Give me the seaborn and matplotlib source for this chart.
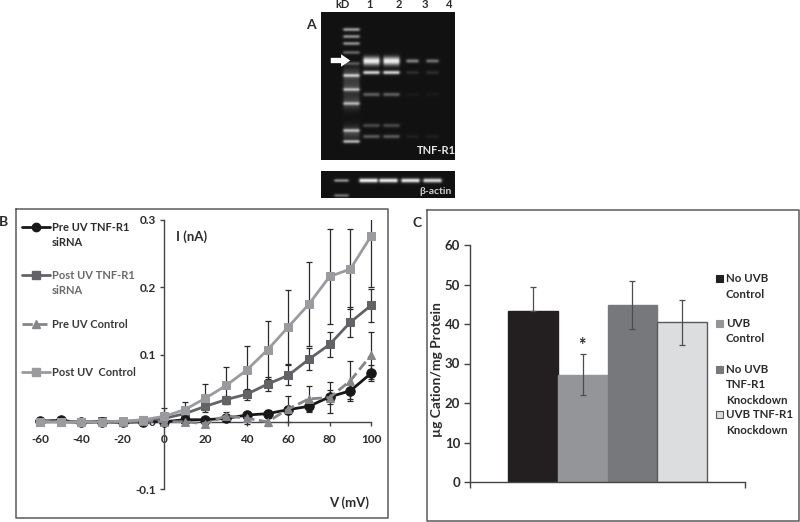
import numpy as np
import pandas as pd
import matplotlib
matplotlib.use("Agg")
import matplotlib.pyplot as plt
import seaborn as sns

# --- Panel B data ---
volts = [-60, -50, -40, -30, -20, -10, 0, 10, 20, 30, 40, 50, 60, 70, 80, 90, 100]
pre_sirna = [0.001, 0.002, -0.001, 0.0, -0.001, 0.0, 0.0, 0.003, 0.003, 0.005, 0.010, 0.012, 0.018, 0.023, 0.037, 0.046, 0.072]
post_sirna = [0.0, 0.0, -0.001, 0.001, 0.0, 0.002, 0.005, 0.012, 0.023, 0.033, 0.041, 0.056, 0.069, 0.093, 0.115, 0.148, 0.173]
pre_ctrl = [0.0, 0.0, 0.0, 0.0, 0.0, 0.001, 0.0, 0.0, -0.003, 0.009, 0.005, 0.0, 0.019, 0.034, 0.036, 0.061, 0.099]
post_ctrl = [0.0, 0.0, -0.001, 0.0, 0.001, 0.003, 0.008, 0.018, 0.035, 0.054, 0.077, 0.107, 0.141, 0.175, 0.216, 0.227, 0.276]
pre_sirna_err = [0.001, 0.001, 0.001, 0.001, 0.001, 0.001, 0.002, 0.003, 0.003, 0.004, 0.005, 0.005, 0.006, 0.007, 0.010, 0.012, 0.012]
post_sirna_err = [0.001, 0.001, 0.001, 0.001, 0.001, 0.002, 0.003, 0.004, 0.005, 0.006, 0.008, 0.011, 0.015, 0.016, 0.018, 0.022, 0.025]
pre_ctrl_err = [0.001, 0.001, 0.001, 0.001, 0.001, 0.002, 0.003, 0.003, 0.004, 0.005, 0.008, 0.006, 0.020, 0.019, 0.023, 0.030, 0.035]
post_ctrl_err = [0.001, 0.001, 0.001, 0.001, 0.002, 0.004, 0.012, 0.012, 0.021, 0.028, 0.036, 0.043, 0.055, 0.063, 0.071, 0.060, 0.076]
b_xticks = [-60, -40, -20, 0, 20, 40, 60, 80, 100]
b_yticks = [-0.1, 0.0, 0.1, 0.2, 0.3]
b_yticklabels = ["-0.1", "0", "0.1", "0.2", "0.3"]

# --- Panel C data ---
conditions = ["No UVB Control", "UVB Control", "No UVB TNF-R1 Knockdown", "UVB TNF-R1 Knockdown"]
cation = [43.3, 27.1, 44.8, 40.5]
cation_err = [6.0, 5.2, 6.0, 5.7]
c_yticks = [0, 10, 20, 30, 40, 50, 60]

# --- Panel A blot: (row in pixels, relative brightness) ---
ladder_rows = [17, 24, 31, 40, 51, 63, 77, 91, 118, 129]
ladder_vals = [0.5, 0.45, 0.45, 0.3, 0.25, 0.5, 0.45, 0.42, 0.45, 0.55]
lane_cols = [50, 70, 91, 111]
lane_rows = [48.5, 60, 82, 113, 124]
lane_vals = [[0.85, 0.7, 0.28, 0.2, 0.26],
             [0.85, 0.7, 0.28, 0.2, 0.26],
             [0.4, 0.1, 0.03, 0.0, 0.05],
             [0.35, 0.1, 0.03, 0.0, 0.05]]
actin_cols = [47, 67, 89, 111]
actin_vals = [0.85, 0.82, 0.8, 0.75]

sns.set_theme(style="white")
plt.rcParams['font.family'] = ['Lato', 'DejaVu Sans']
plt.rcParams['font.weight'] = 'bold'
plt.rcParams['axes.labelweight'] = 'bold'

W, H = 800, 522
TXT = '#2b2b2b'
AXC = '#444444'


def px_axes(fig, left, top, right, bottom, **kw):
    """Axes placed by pixel edges of the figure."""
    return fig.add_axes([left / W, 1 - bottom / H, (right - left) / W, (bottom - top) / H], **kw)


def blot_image(h, w, bands):
    yy, xx = np.mgrid[0:h, 0:w]
    img = np.zeros((h, w))
    for cx, cy, sx, sy, v in bands:
        # flat topped band so lanes read as bars and not as dots
        ex = np.clip(np.abs(xx - cx) - sx, 0, None) / 2.5
        img += v * np.exp(-ex ** 2 - ((yy - cy) / sy) ** 2)
    return img


fig = plt.figure(figsize=(W / 100, H / 100), dpi=100, facecolor='white')

# --- Panel A ---
bands = [(30, r, 6, 1.8, v) for r, v in zip(ladder_rows, ladder_vals)]
bands += [(30, r, 6, 7, 0.2) for r in [62, 75, 90, 120]]
for col, vals in zip(lane_cols, lane_vals):
    half = 6 if vals[0] > 0.8 else 4
    for r, v in zip(lane_rows, vals):
        if v > 0:
            bands.append((col, r, half, 4.2 if (v > 0.8) else 2.0, v))
ax_a = px_axes(fig, 321, 12, 455, 160)
ax_a.imshow(blot_image(148, 134, bands) + 0.07, cmap='gray', vmin=0, vmax=1, aspect='auto')
ax_a.axis('off')

actin = [(20, 9, 5, 1.7, 0.45), (20, 24, 5, 1.7, 0.35)]
actin += [(c, 9, 7, 2.2, v) for c, v in zip(actin_cols, actin_vals)]
ax_act = px_axes(fig, 321, 171, 455, 198)
ax_act.imshow(blot_image(27, 134, actin) + 0.07, cmap='gray', vmin=0, vmax=1, aspect='auto')
ax_act.axis('off')

# --- Panel B ---
ax_b = px_axes(fig, 29.6, 220, 381.4, 489)
series = [
    (post_ctrl, post_ctrl_err, '#9a9b9e', 's', '-', 6.0, 3.4),
    (post_sirna, post_sirna_err, '#626366', 's', '-', 6.0, 3.1),
    (pre_ctrl, pre_ctrl_err, '#85868a', '^', '--', 6.0, 3.3),
    (pre_sirna, pre_sirna_err, '#1a1718', 'o', '-', 6.8, 3.2),
]
for vals, errs, col, mk, ls, ms, z in series:
    ax_b.errorbar(volts, vals, yerr=errs, fmt='none', ecolor='#2a2a2a', elinewidth=0.9, capsize=2.3, capthick=0.9, zorder=2)
for vals, errs, col, mk, ls, ms, z in series:
    sns.lineplot(x=volts, y=vals, color=col, marker=mk, linestyle=ls, linewidth=2.0, markersize=ms,
                 markeredgecolor=col, errorbar=None, ax=ax_b, zorder=z, clip_on=False)
ax_b.set_xlim(-65, 105)
ax_b.set_ylim(-0.1, 0.3)
ax_b.patch.set_alpha(0)
for s in ['top', 'right']:
    ax_b.spines[s].set_visible(False)
ax_b.spines['left'].set_position(('data', 0))
ax_b.spines['bottom'].set_position(('data', 0))
ax_b.spines['bottom'].set_bounds(-60, 100)
for s in ['left', 'bottom']:
    ax_b.spines[s].set_color(AXC)
    ax_b.spines[s].set_linewidth(1.0)
ax_b.set_xticks(b_xticks)
ax_b.set_xticklabels([str(v) for v in b_xticks])
ax_b.set_yticks(b_yticks)
ax_b.set_yticklabels(b_yticklabels)
ax_b.tick_params(axis='both', length=3, width=1, color=AXC, labelsize=8.5, labelcolor=TXT, pad=3, bottom=True, left=True)
ax_b.tick_params(axis='x', pad=6)

# --- Panel C ---
ax_c = px_axes(fig, 470, 245, 745, 482)
df_c = pd.DataFrame({'group': ['all'] * 4, 'condition': conditions, 'cation': cation})
sns.barplot(data=df_c, x='group', y='cation', hue='condition', hue_order=conditions,
            palette=['#231f20', '#939598', '#77787b', '#dcddde'], width=0.727, gap=0,
            errorbar=None, legend=False, saturation=1, ax=ax_c)
for i, (bar, val, err, edge) in enumerate(zip(ax_c.patches, cation, cation_err, ['#231f20', '#939598', '#77787b', '#58595b'])):
    bar.set_edgecolor(edge)
    bar.set_linewidth(1.0)
    # lower half of the first bar's whisker is lost in the black bar
    lower = 0 if i == 0 else err
    ax_c.errorbar(bar.get_x() + bar.get_width() / 2, val, yerr=[[lower], [err]], fmt='none', ecolor='#4d4d4f',
                  elinewidth=0.9, capsize=2.3, capthick=0.9, zorder=4)
ax_c.set_xlim(-0.5, 0.5)
ax_c.set_ylim(0, 60)
ax_c.set_xticks([-0.5, 0.5])
ax_c.set_xticklabels([])
ax_c.set_yticks(c_yticks)
ax_c.set_xlabel('')
ax_c.set_ylabel('')
ax_c.patch.set_alpha(0)
for s in ['top', 'right']:
    ax_c.spines[s].set_visible(False)
for s in ['left', 'bottom']:
    ax_c.spines[s].set_color(AXC)
    ax_c.spines[s].set_linewidth(1.0)
ax_c.tick_params(axis='both', length=4, width=1, color=AXC, labelsize=9.5, labelcolor=TXT, pad=3, bottom=True, left=True)

# --- Overlay in pixel coordinates: frames, legends, labels ---
ov = fig.add_axes([0, 0, 1, 1], zorder=10)
ov.set_xlim(0, W)
ov.set_ylim(H, 0)
ov.axis('off')
ov.patch.set_alpha(0)


def frame(x0, y0, x1, y1):
    ov.plot([x0, x1, x1, x0, x0], [y0, y0, y1, y1, y0], color='#5a5a5a', lw=1.1)


def label(x, y, s, color=TXT, size=8.5, ha='left', **kw):
    ov.text(x, y, s, color=color, fontsize=size, ha=ha, va='center', fontweight='bold', **kw)


frame(15.5, 209, 388, 518)
frame(427, 210, 798.5, 521)

label(311, 25, 'A', size=10, ha='center')
label(3, 222, 'B', size=10, ha='center')
label(417, 223, 'C', size=10, ha='center')
label(343, 5, 'kD', size=8, ha='center')
for x, s in zip([370, 399, 425, 449], ['1', '2', '3', '4']):
    label(x, 5, s, size=8, ha='center')
label(436, 150, 'TNF-R1', color='#e6e6e6', size=8, ha='center')
label(436, 191, 'β-actin', color='#cfcfcf', size=7.5, ha='center')
ov.annotate('', xy=(353, 60.5), xytext=(328, 60.5),
            arrowprops=dict(arrowstyle='simple,head_length=0.55,head_width=0.75,tail_width=0.32', color='white', lw=0))

label(192, 237, 'I (nA)', size=9.5, ha='center')
label(349, 503, 'V (mV)', size=9.5, ha='center')

b_legend = [
    (227, 'Pre UV TNF-R1\nsiRNA', '#1a1718', 'o', '-', TXT),
    (275, 'Post UV TNF-R1\nsiRNA', '#626366', 's', '-', '#6a6a6a'),
    (324, 'Pre UV Control', '#85868a', '^', '--', '#3a3a3a'),
    (372, 'Post UV  Control', '#9a9b9e', 's', '-', '#3a3a3a'),
]
for y, s, col, mk, ls, tcol in b_legend:
    ov.plot([22, 50], [y, y], color=col, lw=2.0, ls=ls)
    ov.plot([36], [y], color=col, marker=mk, ms=6)
    ov.text(52, y - 5, s, color=tcol, fontsize=8, ha='left', va='top', fontweight='bold', linespacing=1.5)

c_legend = [(278, 'No UVB\nControl', '#231f20', '#231f20'),
            (323, 'UVB\nControl', '#939598', '#939598'),
            (369, 'No UVB\nTNF-R1\nKnockdown', '#77787b', '#77787b'),
            (414, 'UVB TNF-R1\nKnockdown', '#dcddde', '#58595b')]
for y, s, col, edge in c_legend:
    ov.add_patch(plt.Rectangle((716, y - 3.5), 7, 7, facecolor=col, edgecolor=edge, lw=0.8))
    ov.text(726, y - 5, s, color=TXT, fontsize=8.3, ha='left', va='top', fontweight='bold', linespacing=1.5)

label(437, 370, 'µg Cation/mg Protein', size=10, ha='center', rotation=90, rotation_mode='anchor')
label(582, 346, '*', size=13, ha='center')

fig.savefig('out.png', dpi=100, facecolor='white')
